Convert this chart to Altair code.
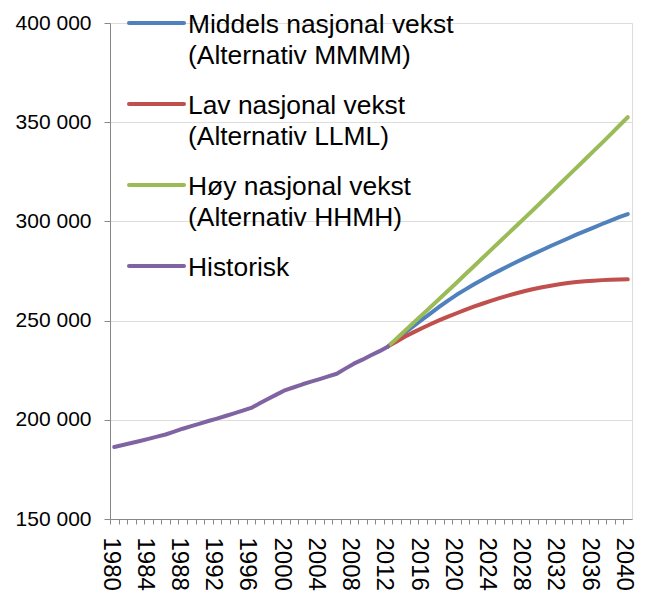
import altair as alt
import pandas as pd

# ---- data ----
years_hist = list(range(1980, 2013))
historisk = [186.3, 187.3, 188.3, 189.3, 190.4, 191.5, 192.6, 194.0, 195.5, 196.8,
             198.1, 199.4, 200.6, 201.9, 203.2, 204.6, 206.0, 208.3, 210.6, 212.8,
             215.0, 216.4, 217.9, 219.2, 220.5, 221.9, 223.2, 225.8, 228.3, 230.3,
             232.5, 234.6, 237.0]

years_proj = list(range(2012, 2041))
middels = [237.0, 240.5, 244.0, 247.3, 250.6, 253.8, 257.0, 260.1, 263.0, 265.6,
           268.2, 270.6, 273.0, 275.2, 277.4, 279.5, 281.6, 283.6, 285.6, 287.6,
           289.5, 291.4, 293.3, 295.1, 296.9, 298.7, 300.4, 302.1, 303.7]
lav = [237.0, 239.5, 242.0, 244.2, 246.3, 248.3, 250.2, 252.0, 253.7, 255.4,
       257.0, 258.5, 259.9, 261.3, 262.6, 263.8, 264.9, 265.9, 266.8, 267.6,
       268.3, 268.9, 269.4, 269.8, 270.1, 270.4, 270.6, 270.7, 270.8]
hoy = [237.0, 241.0, 245.0, 249.0, 253.0, 257.0, 261.0, 265.0, 269.1, 273.2,
       277.3, 281.4, 285.5, 289.6, 293.7, 297.8, 301.9, 306.0, 310.2, 314.4,
       318.6, 322.8, 327.0, 331.2, 335.4, 339.6, 343.9, 348.2, 352.5]

series_names = ["Middels nasjonal vekst", "Lav nasjonal vekst",
                "Høy nasjonal vekst", "Historisk"]
series_labels = ["Middels nasjonal vekst\n(Alternativ MMMM)",
                 "Lav nasjonal vekst\n(Alternativ LLML)",
                 "Høy nasjonal vekst\n(Alternativ HHMH)",
                 "Historisk"]
colors = ["#4F81BD", "#C0504D", "#9BBB59", "#8064A2"]

y_ticks = [150000, 200000, 250000, 300000, 350000, 400000]
x_ticks = list(range(1980, 2042))

rows = []
for y, v in zip(years_proj, middels):
    rows.append({"year": y, "value": v * 1000, "series": series_names[0]})
for y, v in zip(years_proj, lav):
    rows.append({"year": y, "value": v * 1000, "series": series_names[1]})
for y, v in zip(years_proj, hoy):
    rows.append({"year": y, "value": v * 1000, "series": series_names[2]})
for y, v in zip(years_hist, historisk):
    rows.append({"year": y, "value": v * 1000, "series": series_names[3]})
df = pd.DataFrame(rows)

leg = pd.DataFrame({"series": series_names, "label": series_labels,
                    "row": [0, 1, 2, 3]})

W, H = 522, 496
FONT = "Liberation Sans"
color_scale = alt.Scale(domain=series_names, range=colors)

x_enc = alt.X("year:Q",
              scale=alt.Scale(domain=[1979.5, 2040.5], nice=False, zero=False),
              axis=alt.Axis(values=x_ticks, tickOffset=-W / 61 / 2,
                            labelExpr="datum.value % 4 == 0 && datum.value <= 2040 ? toString(datum.value) : ''",
                            labelAngle=90, labelFontSize=24, labelPadding=13,
                            labelOverlap=False, labelFlush=False,
                            tickSize=5, grid=False, title=None))
y_enc = alt.Y("value:Q",
              scale=alt.Scale(domain=[150000, 400000], nice=False, zero=False),
              axis=alt.Axis(values=y_ticks,
                            labelExpr="replace(format(datum.value, ','), ',', ' ')",
                            labelFontSize=21, labelPadding=13, tickSize=6,
                            grid=True, title=None))

layers = []
for name in series_names:
    layers.append(
        alt.Chart(df).transform_filter(alt.datum.series == name)
        .mark_line(strokeWidth=4, strokeCap="round", strokeJoin="round")
        .encode(x=x_enc, y=y_enc,
                color=alt.Color("series:N", scale=color_scale, legend=None))
    )
main = alt.layer(*layers)

legend_base = alt.Chart(leg).transform_calculate(py="datum.row * 81")
leg_rules = legend_base.mark_rule(strokeWidth=4, strokeCap="round").encode(
    x=alt.value(19), x2=alt.value(74),
    y=alt.Y("py:Q", scale=None, axis=None),
    color=alt.Color("series:N", scale=color_scale, legend=None))
leg_text = legend_base.mark_text(align="left", baseline="alphabetic", dy=9.5,
                                 fontSize=26.4, lineHeight=31, lineBreak="\n",
                                 font=FONT, color="black").encode(
    x=alt.value(78),
    y=alt.Y("py:Q", scale=None, axis=None),
    text="label:N")
legend = alt.layer(leg_rules, leg_text)

chart = (alt.layer(main, legend)
         .resolve_scale(y="independent")
         .properties(width=W, height=H,
                     autosize=alt.AutoSizeParams(type="none"),
                     padding={"left": 102, "top": 15, "right": 8, "bottom": 73})
         .configure_view(stroke=None)
         .configure_axis(domainColor="#868686", domainWidth=1.5,
                         tickColor="#868686", tickWidth=1.5,
                         gridColor="#e0e6e6", gridWidth=1.5,
                         labelFont=FONT, labelColor="black")
         .configure(font=FONT))

chart.save("out.html", embed_options={"renderer": "svg", "actions": False})
